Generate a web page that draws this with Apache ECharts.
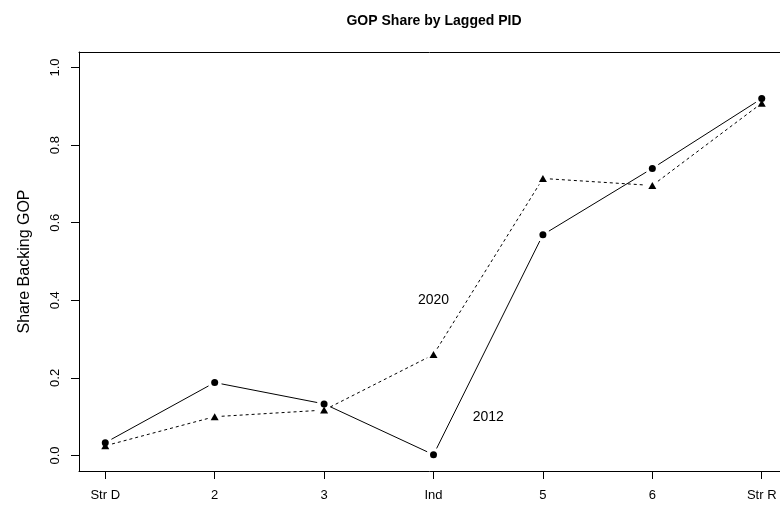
<!DOCTYPE html>
<html>
<head>
<meta charset="utf-8">
<title>GOP Share by Lagged PID</title>
<script src="https://cdn.jsdelivr.net/npm/echarts@6/dist/echarts.min.js"></script>
<style>
  html, body { margin: 0; padding: 0; background: #fff; }
  #chart { width: 780px; height: 505px; }
</style>
</head>
<body>
<div id="chart"></div>
<script>
// Lagged party ID categories (x positions 1..7)
const pidLabels = ['Str D', '2', '3', 'Ind', '5', '6', 'Str R'];
const pidPositions = [1, 2, 3, 4, 5, 6, 7];

// Share backing the GOP candidate, by lagged PID
const share2012 = [0.033, 0.188, 0.133, 0.002, 0.569, 0.740, 0.920];
const share2020 = [0.025, 0.100, 0.117, 0.260, 0.714, 0.696, 0.908];

// Y tick values
const yTicks = [0, 0.2, 0.4, 0.6, 0.8, 1.0];

// In-plot year annotations
const noteText = ['2020', '2012'];
const noteX = [4, 4.5];
const noteY = [0.4, 0.1];

const FONT = '"Liberation Sans", Arial, Helvetica, sans-serif';

// plot region spans 0.76..7.24 on x; the page shows it up to the right edge
const X_MIN = 0.76;
const X_UNIT_PX = 109.57;
const PLOT_LEFT = 79;
const PLOT_WIDTH = 702;
const X_MAX_VISIBLE = X_MIN + PLOT_WIDTH / X_UNIT_PX;

const pairs = (ys) => pidPositions.map((x, i) => [x, ys[i]]);
// consecutive point pairs -> [x1, y1, x2, y2]
const segments = (ys) => {
  const pts = pairs(ys);
  const out = [];
  for (let i = 0; i < pts.length - 1; i++) {
    out.push([pts[i][0], pts[i][1], pts[i + 1][0], pts[i + 1][1]]);
  }
  return out;
};

// "both" style connectors: each segment stops short of its end points
const GAP = 7;
function gappedSegment(dash) {
  return function (params, api) {
    const a = api.coord([api.value(0), api.value(1)]);
    const b = api.coord([api.value(2), api.value(3)]);
    const dx = b[0] - a[0];
    const dy = b[1] - a[1];
    const len = Math.sqrt(dx * dx + dy * dy);
    if (len <= 2 * GAP) return null;
    const ux = dx / len, uy = dy / len;
    return {
      type: 'line',
      shape: {
        x1: a[0] + ux * GAP, y1: a[1] + uy * GAP,
        x2: b[0] - ux * GAP, y2: b[1] - uy * GAP
      },
      style: { stroke: '#000', lineWidth: 1, lineDash: dash, fill: null }
    };
  };
}

const chart = echarts.init(document.getElementById('chart'), null, { renderer: 'canvas' });

const hiddenAxisParts = {
  axisTick: { show: false },
  axisLabel: { show: false },
  splitLine: { show: false }
};

chart.setOption({
  animation: false,
  backgroundColor: '#ffffff',
  textStyle: { fontFamily: FONT, color: '#000' },
  graphic: [{
    type: 'text',
    x: 434,
    y: 21,
    style: {
      text: 'GOP Share by Lagged PID',
      fill: '#000',
      font: 'bold 14px ' + FONT,
      textAlign: 'center',
      textVerticalAlign: 'middle'
    }
  }],
  grid: {
    left: PLOT_LEFT,
    top: 52,
    width: PLOT_WIDTH,
    height: 419,
    show: false
  },
  xAxis: [
    {
      type: 'value',
      position: 'bottom',
      min: X_MIN,
      max: X_MAX_VISIBLE,
      axisLine: { show: true, onZero: false, lineStyle: { color: '#000', width: 1 } },
      axisTick: {
        show: true,
        length: 8,
        customValues: pidPositions,
        lineStyle: { color: '#000', width: 1 }
      },
      axisLabel: {
        customValues: pidPositions,
        margin: 18,
        fontSize: 13,
        fontFamily: FONT,
        color: '#000',
        formatter: (v) => pidLabels[Math.round(v) - 1]
      },
      splitLine: { show: false }
    },
    Object.assign({
      // top edge of the plot box
      type: 'value',
      position: 'top',
      min: X_MIN,
      max: X_MAX_VISIBLE,
      axisLine: { show: true, onZero: false, lineStyle: { color: '#000', width: 1 } }
    }, hiddenAxisParts)
  ],
  yAxis: {
    type: 'value',
    min: -0.04,
    max: 1.04,
    name: 'Share Backing GOP',
    nameLocation: 'middle',
    nameRotate: 90,
    nameGap: 46,
    nameTextStyle: { fontSize: 16, fontFamily: FONT, color: '#000' },
    axisLine: { show: true, onZero: false, lineStyle: { color: '#000', width: 1 } },
    axisTick: {
      show: true,
      length: 8,
      customValues: yTicks,
      lineStyle: { color: '#000', width: 1 }
    },
    axisLabel: {
      customValues: yTicks,
      rotate: 90,
      margin: 17,
      fontSize: 13,
      fontFamily: FONT,
      color: '#000',
      formatter: (v) => v.toFixed(1)
    },
    splitLine: { show: false }
  },
  series: [
    {
      name: '2012 line',
      type: 'custom',
      xAxisIndex: 0,
      data: segments(share2012),
      encode: { x: [0, 2], y: [1, 3] },
      renderItem: gappedSegment(null),
      silent: true,
      z: 2
    },
    {
      name: '2020 line',
      type: 'custom',
      xAxisIndex: 0,
      data: segments(share2020),
      encode: { x: [0, 2], y: [1, 3] },
      renderItem: gappedSegment([3, 3]),
      silent: true,
      z: 2
    },
    {
      name: '2012',
      type: 'scatter',
      xAxisIndex: 0,
      data: pairs(share2012),
      symbol: 'circle',
      symbolSize: 7,
      itemStyle: { color: '#000', opacity: 1 },
      z: 4
    },
    {
      name: '2020',
      type: 'scatter',
      xAxisIndex: 0,
      data: pairs(share2020),
      symbol: 'triangle',
      symbolSize: [8, 7],
      itemStyle: { color: '#000', opacity: 1 },
      z: 4
    },
    {
      type: 'scatter',
      xAxisIndex: 0,
      data: noteX.map((x, i) => ({ value: [x, noteY[i]], name: noteText[i] })),
      symbolSize: 0,
      silent: true,
      itemStyle: { opacity: 1 },
      label: {
        show: true,
        position: [0, 0],
        align: 'center',
        verticalAlign: 'middle',
        formatter: (p) => p.name,
        fontSize: 14,
        fontFamily: FONT,
        color: '#000'
      },
      z: 5
    }
  ]
});
</script>
</body>
</html>
